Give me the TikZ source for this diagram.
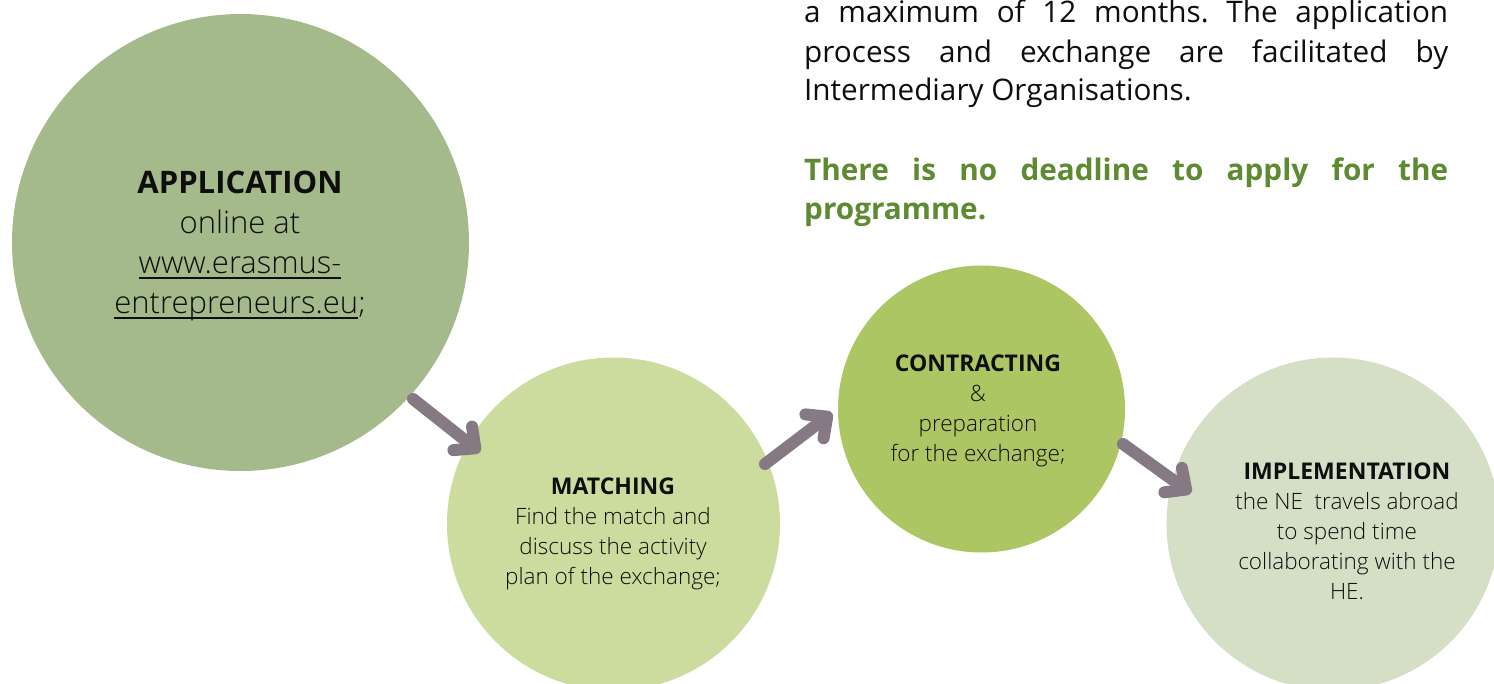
\documentclass[tikz,border=0pt]{standalone}
\usepackage{fontspec}
\setmainfont{Open Sans}
\newfontfamily\lightfont{Open Sans Light}
\usetikzlibrary{arrows.meta}
\definecolor{cApp}{HTML}{A5BA8A}
\definecolor{cMatch}{HTML}{CCDC9E}
\definecolor{cContr}{HTML}{ABC663}
\definecolor{cImpl}{HTML}{D4DFC6}
\definecolor{cArrow}{HTML}{857A83}
\definecolor{cText}{HTML}{0E0E0E}
\definecolor{cGreen}{HTML}{5E8A31}
\newcommand\myul[1]{\setbox0\hbox{#1}\rlap{\rule[-5pt]{\wd0}{2pt}}\box0}
\newcommand\bigtitle[1]{{\normalfont\bfseries\fontsize{31}{40}\selectfont #1}}
\newcommand\smalltitle[1]{{\normalfont\bfseries\fontsize{23}{30}\selectfont #1}}
\frenchspacing
\begin{document}
\begin{tikzpicture}[x=1pt,y=-1pt,
  bubble/.style={circle, draw=none, inner sep=0pt},
  bigtext/.style={align=center, text=cText, inner sep=0pt, font=\lightfont\fontsize{31}{40}\selectfont},
  smalltext/.style={align=center, text=cText, inner sep=0pt, font=\lightfont\fontsize{22.5}{30}\selectfont},
  paraline/.style={anchor=base west, inner sep=0pt, text=cText, font=\fontsize{29.7}{40}\selectfont},
  greenline/.style={anchor=base west, inner sep=0pt, text=cGreen, font=\bfseries\fontsize{29.7}{40}\selectfont},
  flowarrow/.style={draw=cArrow, line width=12pt, line cap=round, -{Straight Barb[length=16pt, width=30pt, round]}}
]
\useasboundingbox (0,0) rectangle (1494,683);
\clip (0,0) rectangle (1494,683);

% circles
\node[bubble, fill=cApp, minimum size=457pt] (app) at (240.5,242.5) {};
\node[bubble, fill=cMatch, minimum size=333pt] (match) at (613.5,524) {};
\node[bubble, fill=cContr, minimum size=287pt] (contr) at (981.5,409) {};
\node[bubble, fill=cImpl, minimum size=333pt] (impl) at (1333,524) {};

% circle texts
\node[bigtext] (apptxt) at (240,246) {\bigtitle{APPLICATION}\\ online at\\ \myul{www.erasmus-}\\ \myul{entrepreneurs.eu};};
\node[smalltext] (matchtxt) at (613,534) {\smalltitle{MATCHING}\\ Find the match and\\ discuss the activity\\ plan of the exchange;};
\node[smalltext] (contrtxt) at (978,411) {\smalltitle{CONTRACTING}\\ \&\\ preparation\\ for the exchange;};
\node[smalltext] (impltxt) at (1347,531) {\smalltitle{IMPLEMENTATION}\\ the NE\ \ travels abroad\\ to spend time\\ collaborating with the\\ HE.};

% paragraph
\node[paraline] (p1) at (804,22) {\makebox[644pt][s]{a maximum of 12 months. The application}};
\node[paraline] (p2) at (804,62) {\makebox[644pt][s]{process and exchange are facilitated by}};
\node[paraline] (p3) at (804,100) {Intermediary Organisations.};
\node[greenline] (g1) at (804,180) {\makebox[644pt][s]{There is no deadline to apply for the}};
\node[greenline] (g2) at (804,219) {programme.};

% arrows
\coordinate (a1s) at (413,399);
\coordinate (a1e) at (480,452);
\coordinate (a2s) at (765,464);
\coordinate (a2e) at (832,413);
\coordinate (a3s) at (1123,444);
\coordinate (a3e) at (1191,493);
\draw[flowarrow] (a1s) -- (a1e);
\draw[flowarrow] (a2s) -- (a2e);
\draw[flowarrow] (a3s) -- (a3e);
\end{tikzpicture}
\end{document}
